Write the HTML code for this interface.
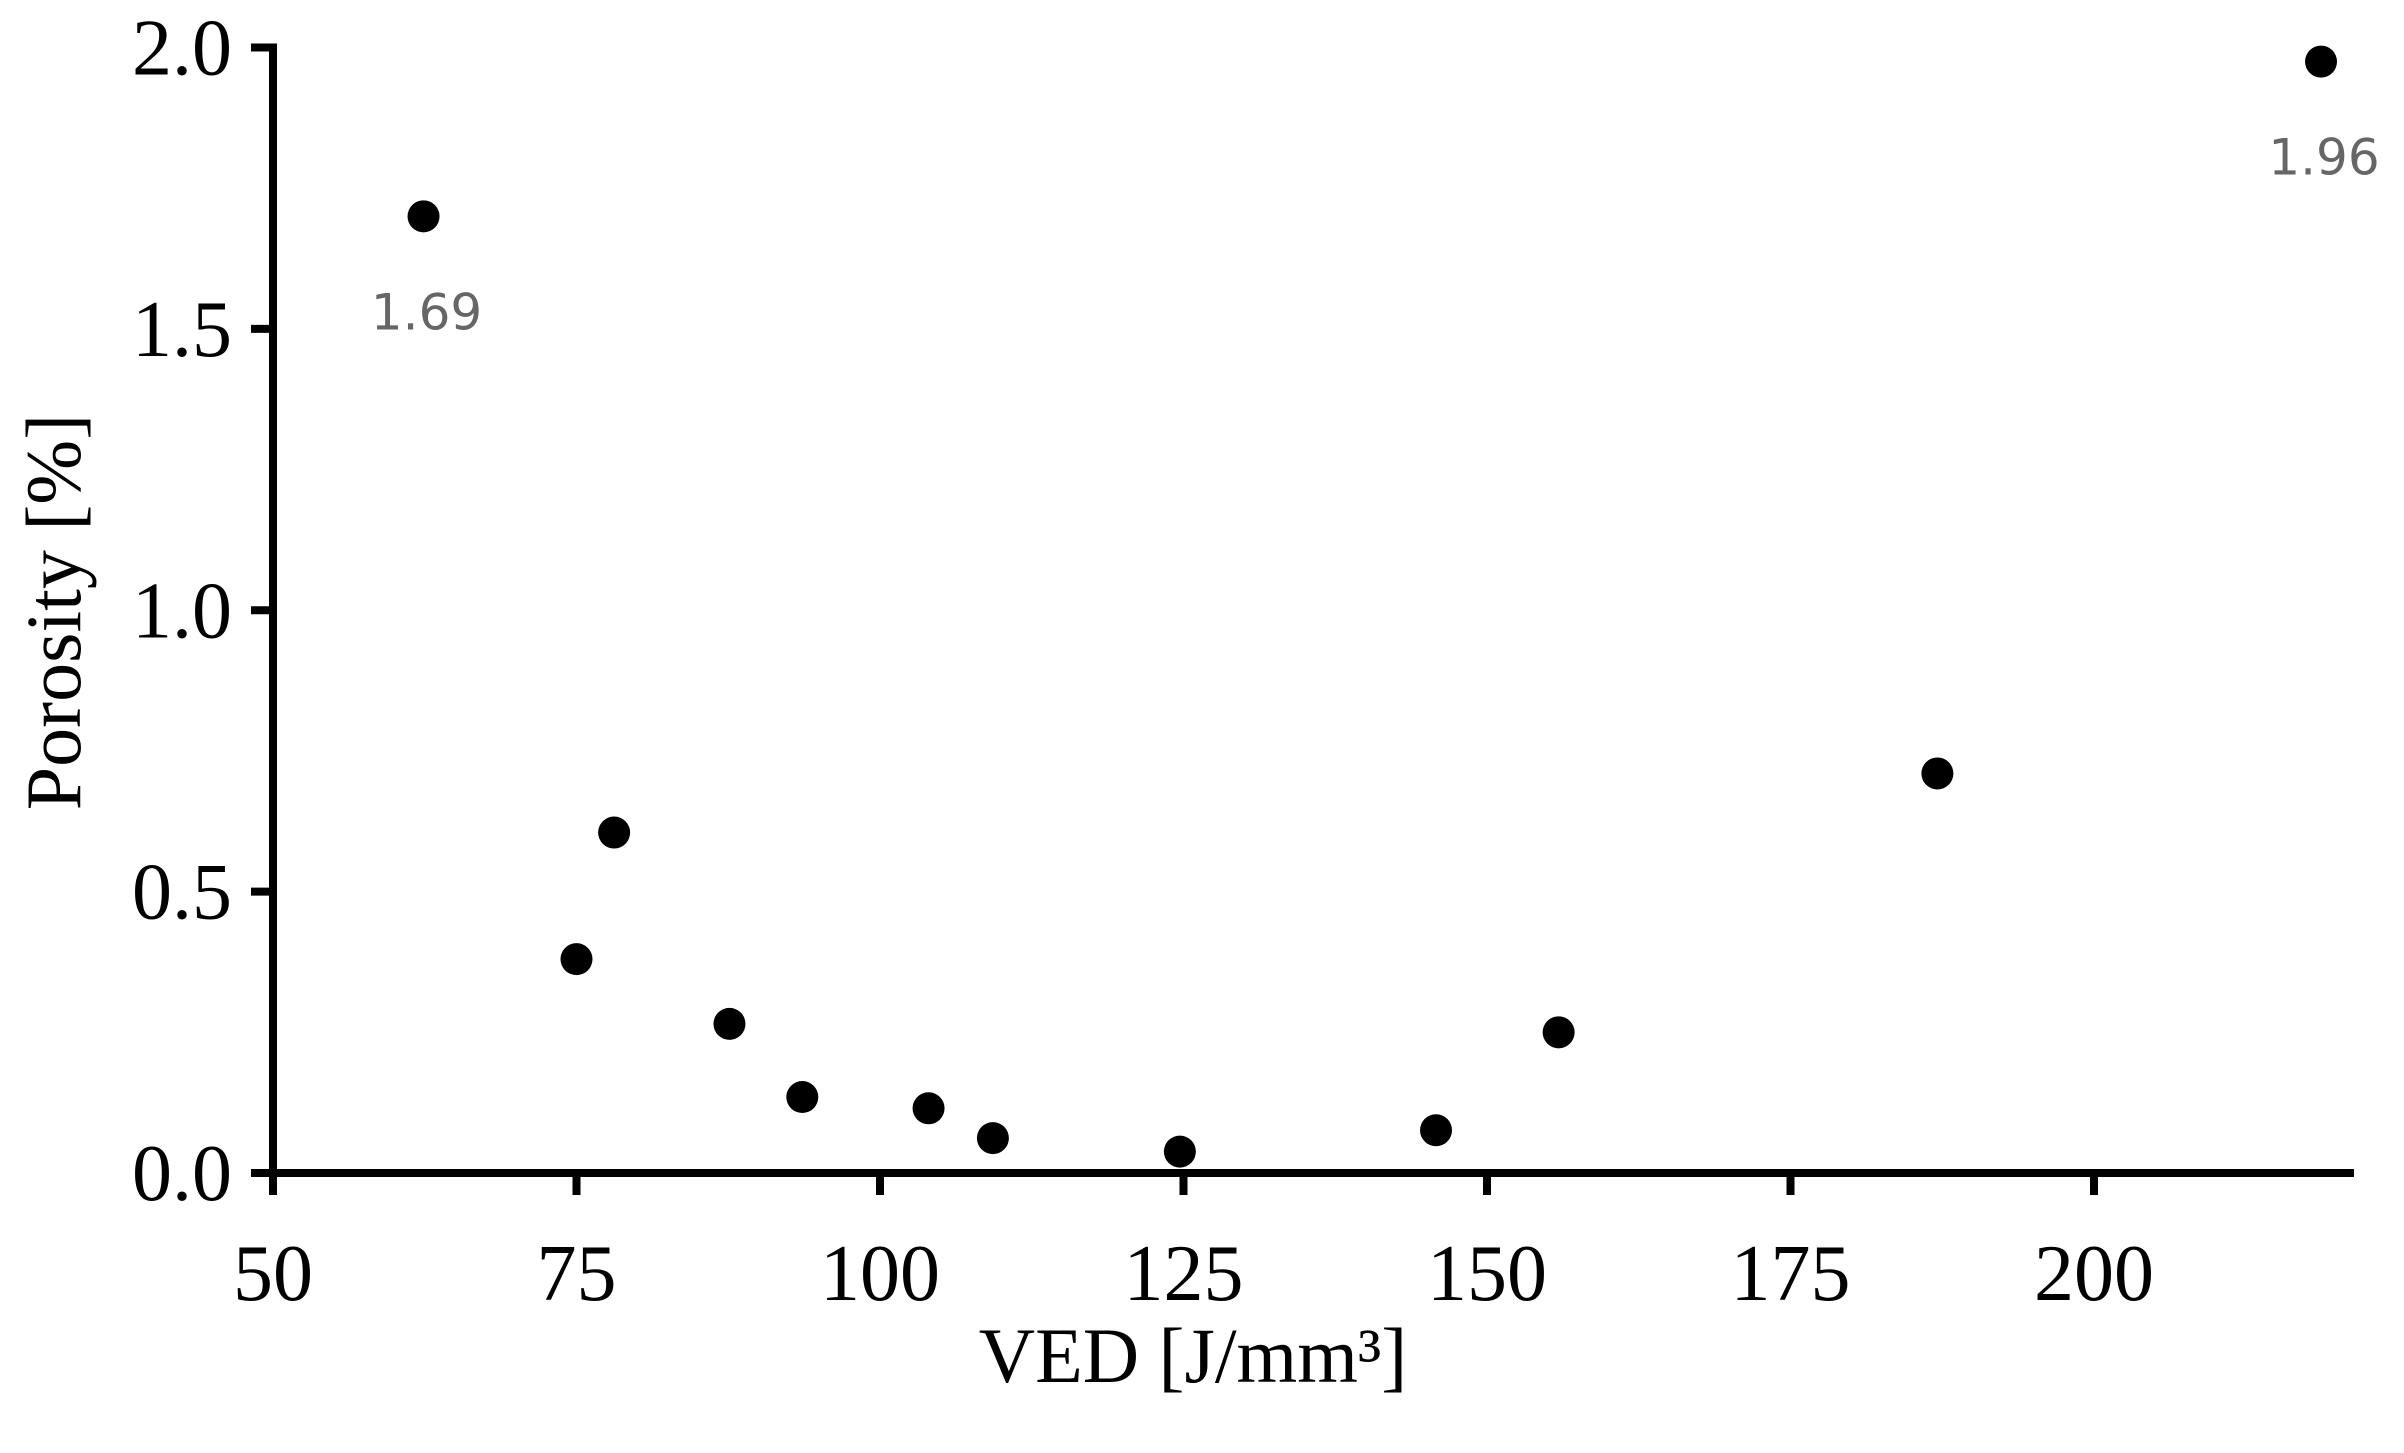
<!DOCTYPE html>
<html><head><meta charset="utf-8"><style>
html,body{margin:0;padding:0;background:#fff;}
svg{display:block;}
</style></head><body>
<svg id="chart" width="2404" height="1453" viewBox="0 0 2404 1453" xmlns="http://www.w3.org/2000/svg"></svg>
<script>
const vedValues = [62.4, 75.0, 78.1, 87.6, 93.6, 104.0, 109.3, 124.7, 145.8, 155.9, 187.1, 218.7];
const porosityValues = [1.70, 0.38, 0.605, 0.265, 0.135, 0.115, 0.062, 0.038, 0.076, 0.25, 0.71, 1.975];
const labelTexts = ["1.69", "", "", "", "", "", "", "", "", "", "", "1.96"];
const xTicks = [50, 75, 100, 125, 150, 175, 200];
const yTicks = ["0.0", "0.5", "1.0", "1.5", "2.0"];

const svg = document.getElementById('chart');
const NS = 'http://www.w3.org/2000/svg';
const X0 = 273, X1 = 2094, Y0 = 1173, Y1 = 47.5;
const xMin = 50, xMax = 200, yMin = 0, yMax = 2;
function xs(v){ return X0 + (v - xMin) / (xMax - xMin) * (X1 - X0); }
function ys(v){ return Y0 - (v - yMin) / (yMax - yMin) * (Y0 - Y1); }
function mk(tag, attrs){ const e = document.createElementNS(NS, tag); for (const k in attrs) e.setAttribute(k, attrs[k]); svg.appendChild(e); return e; }

let yAxis = mk('line', {x1: X0, y1: Y1 - 4, x2: X0, y2: Y0 + 4, stroke: '#000', 'stroke-width': 8});


let xAxis = mk('line', {x1: X0 - 22, y1: Y0, x2: 2354, y2: Y0, stroke: '#000', 'stroke-width': 8});



xTicks.forEach(t => {
  const x = xs(t);
  const tk = mk('line', {x1: x, y1: Y0, x2: x, y2: Y0 + 22, stroke: '#000', 'stroke-width': 8});
  
  
  const lb = mk('text', {x: x, y: 1300, 'text-anchor': 'middle', 'font-family': 'Liberation Serif, serif', 'font-size': 80, fill: '#000'});
  lb.textContent = t;
  
  
});
yTicks.forEach(t => {
  const y = ys(parseFloat(t));
  const tk = mk('line', {x1: X0 - 22, y1: y, x2: X0, y2: y, stroke: '#000', 'stroke-width': 8});
  
  
  const lb = mk('text', {x: 232, y: y + 27, 'text-anchor': 'end', 'font-family': 'Liberation Serif, serif', 'font-size': 80, fill: '#000'});
  lb.textContent = t;
  
  
});

let xt = mk('text', {x: 1193, y: 1382, 'text-anchor': 'middle', 'font-family': 'Liberation Serif, serif', 'font-size': 78, fill: '#000'});
xt.textContent = 'VED [J/mm³]';


let yt = mk('text', {x: 0, y: 0, 'text-anchor': 'middle', 'font-family': 'Liberation Serif, serif', 'font-size': 78, fill: '#000', transform: 'translate(80,612) rotate(-90)'});
yt.textContent = 'Porosity [%]';



vedValues.forEach((v, i) => {
  const cx = xs(v), cy = ys(porosityValues[i]);
  const c = mk('circle', {cx: cx, cy: cy, r: 16, fill: '#000'});
  
  
  if (labelTexts[i]) {
    const t = mk('text', {x: cx + 3, y: cy + 113, 'text-anchor': 'middle', 'font-family': 'DejaVu Sans, Liberation Sans, sans-serif', 'font-size': 50, fill: '#666'});
    t.textContent = labelTexts[i];
    
    
  }
});
</script>
</body></html>
